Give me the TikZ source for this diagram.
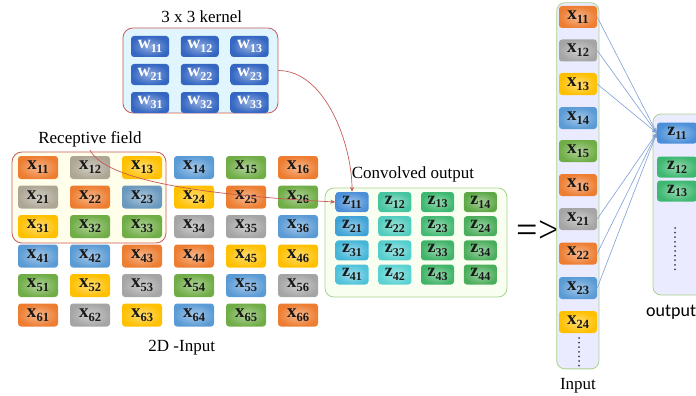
\documentclass[tikz,border=0pt]{standalone}
\usepackage{fontspec}
\setmainfont{Liberation Serif}
\newfontfamily\carlfont{Carlito}
\usetikzlibrary{arrows.meta}
\definecolor{cOr}{HTML}{ED7D31}
\definecolor{cGy}{HTML}{A5A5A5}
\definecolor{cTp}{HTML}{ADA695}
\definecolor{cYe}{HTML}{FFC000}
\definecolor{cBl}{HTML}{5B9BD5}
\definecolor{cSb}{HTML}{6A98BE}
\definecolor{cGr}{HTML}{70AD47}
\definecolor{cKb}{HTML}{3466C2}
\definecolor{zA}{HTML}{4A8FD8}
\definecolor{zB}{HTML}{3FA3D6}
\definecolor{zC}{HTML}{45B6D8}
\definecolor{zD}{HTML}{4FC2DA}
\definecolor{zE}{HTML}{45C4A0}
\definecolor{zF}{HTML}{52CCBE}
\definecolor{zG}{HTML}{55CECE}
\definecolor{zH}{HTML}{5AD2D2}
\definecolor{zI}{HTML}{3DB870}
\definecolor{zJ}{HTML}{44BA74}
\definecolor{zK}{HTML}{40B468}
\definecolor{zL}{HTML}{5EA848}
\definecolor{zM}{HTML}{4BAE5C}
\definecolor{redl}{HTML}{C65B57}
\definecolor{bluel}{HTML}{7F9FD6}
\definecolor{greenb}{HTML}{A9D18E}
\newcommand\mkx[1]{\fontsize{19}{19}\selectfont\textbf{x}\raisebox{-3.8pt}{\fontsize{12.5}{12.5}\selectfont\textbf{#1}}}
\newcommand\mkw[1]{\fontsize{18}{18}\selectfont\textbf{w}\raisebox{-3.8pt}{\fontsize{12}{12}\selectfont\textbf{#1}}}
\newcommand\mkz[1]{\fontsize{18}{18}\selectfont\textbf{z}\raisebox{-3.8pt}{\fontsize{12}{12}\selectfont\textbf{#1}}}
\tikzset{
  cellbox/.style={rounded corners=3pt, inner sep=0pt, text=black!90,
    inner color=#1!55!white, outer color=#1},
  xcell/.style={cellbox=#1, minimum width=40pt, minimum height=23pt},
  icell/.style={cellbox=#1, minimum width=38pt, minimum height=22pt},
  kcell/.style={cellbox=#1, minimum width=38pt, minimum height=21pt, text=white},
  zcell/.style={cellbox=#1, minimum width=33pt, minimum height=20pt},
  ocell/.style={cellbox=#1, minimum width=40pt, minimum height=21pt},
  redbox/.style={draw=redl, line width=0.8pt, rounded corners=10pt, inner sep=0pt},
  greenbox/.style={draw=greenb, line width=0.8pt, rounded corners=9pt, inner sep=0pt},
  lbl/.style={font=\fontsize{17}{17}\selectfont, inner sep=0pt},
  redarrow/.style={draw=redl, line width=0.7pt, -{Stealth[length=5pt,width=4pt]}},
  bluearrow/.style={draw=bluel, line width=0.6pt, -{Stealth[length=5pt,width=4pt]}},
  dotline/.style={line width=2pt, line cap=round, dash pattern=on 0pt off 4.6pt, black!75}
}
\begin{document}
\begin{tikzpicture}[x=1pt,y=-1pt]
\useasboundingbox (0,0) rectangle (696,396);
% kernel
\node[lbl] (klabel) at (201.7,17) {3 x 3 kernel};
\node[redbox, fill=cyan!12, minimum width=155pt, minimum height=85pt] (kernel) at (200.4,70.5) {};
\foreach \r in {1,2,3}{
  \foreach \c in {1,2,3}{
    \node[kcell=cKb] (w\r\c) at ({150+49.75*(\c-1)},{46.5+28*(\r-1)}) {\mkw{\r\c}};
  }
}
% receptive field box
\node[lbl] (rflabel) at (90,139) {Receptive field};
\node[redbox, fill=orange!10!yellow!8, minimum width=154pt, minimum height=91pt] (rf) at (89,197.5) {};
% 2D input grid
\foreach \r/\cols in {1/{cOr,cTp,cYe,cBl,cGr,cOr},2/{cTp,cOr,cSb,cYe,cOr,cGr},3/{cYe,cGr,cGr,cGy,cGy,cBl},4/{cBl,cBl,cOr,cOr,cYe,cYe},5/{cGr,cYe,cGy,cGr,cBl,cGy},6/{cOr,cGy,cYe,cBl,cGr,cOr}}{
  \foreach \cc [count=\j] in \cols {
    \node[xcell=\cc] (x\r\j) at ({38+52*(\j-1)},{167.5+29.5*(\r-1)}) {\mkx{\r\j}};
  }
}
\node[lbl] (inlabel) at (181.7,348) {2D -Input};
% convolved output
\node[lbl] (clabel) at (413,174) {Convolved output};
\node[greenbox, fill=green!25!lime!6!white, minimum width=182pt, minimum height=109pt] (conv) at (416,242.5) {};
\foreach \r/\cols in {1/{zA,zE,zI,zL},2/{zB,zF,zJ,zM},3/{zC,zG,zK,zM},4/{zD,zH,zK,zM}}{
  \foreach \cc [count=\j] in \cols {
    \node[zcell=\cc] (z\r\j) at ({352+42.77*(\j-1)},{202+24.17*(\r-1)}) {\mkz{\r\j}};
  }
}
% arrow sign
\node[inner sep=0pt, font=\fontsize{38}{38}\selectfont] (imp) at (538,232) {=>};
% input column
\node[greenbox, rounded corners=8pt, fill=blue!8!white, minimum width=42.3pt, minimum height=366pt] (incol) at (577.85,185.85) {};
\foreach \lab/\cc/\yy [count=\k] in {11/cOr/17,12/cGy/50.5,13/cYe/84,14/cBl/118,15/cGr/151,16/cOr/185,21/cGy/219,22/cOr/253.5,23/cBl/288,24/cYe/322}{
  \node[icell=\cc] (i\k) at (578,\yy) {\mkx{\lab}};
}
\coordinate (dA) at (579,338);
\coordinate (dB) at (579,367);
\draw[dotline] (dA) -- (dB);
\node[lbl] (ilabel) at (578,386) {Input};
% output column
\node[greenbox, rounded corners=8pt, fill=blue!8!white, minimum width=59pt, minimum height=181pt] (outcol) at (682.5,204.5) {};
\node[ocell=zA] (o1) at (677,133) {\mkz{11}};
\node[ocell=zI] (o2) at (677,167) {\mkz{12}};
\node[ocell=zI] (o3) at (677,191) {\mkz{13}};
\coordinate (dC) at (675,228);
\coordinate (dD) at (675,270);
\draw[dotline] (dC) -- (dD);
\node[anchor=west, inner sep=0pt, font=\carlfont\fontsize{18}{18}\selectfont] (olabel) at (646,312) {output};
% connectors
\draw[redarrow] (kernel.east) to[out=0,in=90,looseness=0.85] (z11.north);
\coordinate (rfs) at (90,150);
\draw[redarrow] (rfs) .. controls (105,180) and (200,195) .. (z11.west);
\foreach \k in {1,2,3,7,8,9}{
  \draw[bluearrow] (i\k.east) -- (o1.west);
}
\end{tikzpicture}
\end{document}
